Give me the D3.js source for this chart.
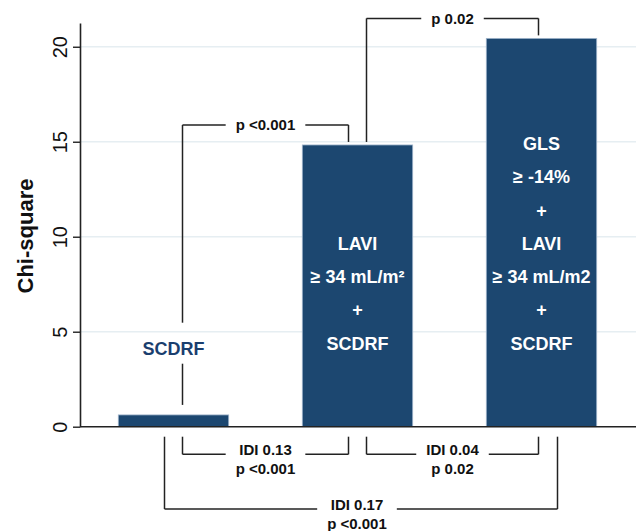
<!DOCTYPE html>
<html lang="en">
<meta charset="utf-8">

<script src="https://d3js.org/d3.v7.min.js"></script>

<head>
    <style type="text/css">
        body {
            margin: 0;
            background: #fff;
        }

        text {
            font-family: "Liberation Sans", Arial, sans-serif;
        }

        .bar-label {
            font-size: 18px;
            font-weight: bold;
        }

        .cmp-label {
            font-size: 15px;
            font-weight: bold;
            fill: #111;
        }
    </style>
</head>

<body>
    <div id="my_dataviz"></div>

    <script>
        // data
        const models = ["SCDRF", "LAVI + SCDRF", "GLS + LAVI + SCDRF"];
        const chiSquare = [0.62, 14.83, 20.44];
        const barLines = [
            ["SCDRF"],
            ["LAVI", "≥ 34 mL/m²", "+", "SCDRF"],
            ["GLS", "≥ -14%", "+", "LAVI", "≥ 34 mL/m2", "+", "SCDRF"]
        ];
        const yTicks = [0, 5, 10, 15, 20];

        // chi-square comparisons (above bars)
        const topPairs = [[0, 1], [1, 2]];
        const topLabels = ["p <0.001", "p 0.02"];

        // IDI comparisons (below axis)
        const bottomPairs = [[0, 1], [1, 2], [0, 2]];
        const bottomLabels = [["IDI 0.13", "p <0.001"], ["IDI 0.04", "p 0.02"], ["IDI 0.17", "p <0.001"]];

        const W = 638, H = 531;
        const axisX = 80, plotRight = 636;

        const svg = d3.select("#my_dataviz")
            .append("svg")
            .attr("width", W)
            .attr("height", H);

        const x = d3.scaleBand()
            .domain(models)
            .range([81.5, 633.5])
            .paddingInner(0.4)
            .paddingOuter(0.2);

        const y = d3.scaleLinear()
            .domain([0, 21.25])
            .range([426.7, 23]);

        const cx = i => x(models[i]) + x.bandwidth() / 2;

        // gridlines
        svg.append("g")
            .selectAll("line")
            .data(yTicks.filter(d => d > 0))
            .join("line")
            .attr("x1", axisX)
            .attr("x2", plotRight)
            .attr("y1", d => y(d))
            .attr("y2", d => y(d))
            .attr("stroke", "#e6eef2")
            .attr("stroke-width", 1.5);

        // bars
        svg.append("g")
            .selectAll("rect")
            .data(chiSquare)
            .join("rect")
            .attr("x", (d, i) => x(models[i]))
            .attr("y", d => y(d))
            .attr("width", x.bandwidth())
            .attr("height", d => y(0) - y(d))
            .attr("fill", "#1c4770")
            .attr("stroke", "#9fb4cb")
            .attr("stroke-width", 0.8);

        // y axis
        const yAxis = svg.append("g")
            .attr("transform", `translate(${axisX},0)`)
            .call(d3.axisLeft(y).tickValues(yTicks).tickSize(7).tickSizeOuter(0))
            .attr("font-size", 20)
            .attr("font-family", null);
        yAxis.select(".domain").attr("stroke", "#222").attr("stroke-width", 1.6);
        yAxis.selectAll(".tick line").attr("stroke", "#222").attr("stroke-width", 1.4);
        yAxis.selectAll(".tick text")
            .attr("transform", "rotate(-90)")
            .attr("x", 0)
            .attr("y", -13)
            .attr("dy", null)
            .attr("fill", "#111")
            .style("text-anchor", "middle");

        // x axis line
        svg.append("line")
            .attr("x1", axisX)
            .attr("x2", plotRight)
            .attr("y1", y(0))
            .attr("y2", y(0))
            .attr("stroke", "#222")
            .attr("stroke-width", 1.6);

        svg.append("text")
            .attr("transform", "translate(33,236)rotate(-90)")
            .attr("text-anchor", "middle")
            .attr("font-size", 22)
            .attr("font-weight", "bold")
            .attr("fill", "#111")
            .text("Chi-square");

        // labels on / above bars
        let firstLabel = null;
        barLines.forEach((lines, i) => {
            lines.forEach((t, j) => {
                const inside = i > 0;
                const base = inside ? y(0) - 77 - (lines.length - 1 - j) * 33.3 : y(0) - 72;
                svg.append("text")
                    .attr("class", "bar-label")
                    .attr("x", cx(i))
                    .attr("y", base)
                    .attr("text-anchor", "middle")
                    .attr("fill", inside ? "#fff" : "#1a3e6e")
                    .text(t);
                if (!inside) firstLabel = base;
            });
        });

        // brackets
        const br = svg.append("g").attr("stroke", "#222").attr("stroke-width", 1.5).attr("fill", "none");
        const seg = (x1, y1, x2, y2) => br.append("line")
            .attr("x1", x1).attr("y1", y1).attr("x2", x2).attr("y2", y2);
        const rightLeg = [0, -9, -3];
        const legEnd = v => y(v) - (v < 2 ? 10 : 3);

        function hLine(x1, x2, yl, xm, gap) {
            seg(x1, yl, xm - gap, yl);
            seg(xm + gap, yl, x2, yl);
        }

        topPairs.forEach(([a, b], k) => {
            const x1 = cx(a) + 9, x2 = cx(b) + rightLeg[b];
            const yl = y(Math.max(chiSquare[a], chiSquare[b])) - 20;
            const xm = (x1 + x2) / 2;
            const t = svg.append("text")
                .attr("class", "cmp-label")
                .attr("x", xm)
                .attr("y", yl + 5.4)
                .attr("text-anchor", "middle")
                .text(topLabels[k]);
            const gap = t.node().getComputedTextLength() / 2 + 10;
            hLine(x1, x2, yl, xm, gap);
            // left leg, broken around the SCDRF label over the small bar
            if (a === 0) {
                seg(x1, yl, x1, firstLabel - 32);
                seg(x1, firstLabel + 9, x1, legEnd(chiSquare[a]));
            } else {
                seg(x1, yl, x1, legEnd(chiSquare[a]));
            }
            seg(x2, yl, x2, legEnd(chiSquare[b]));
        });

        bottomPairs.forEach(([a, b], k) => {
            const wide = (b - a) > 1;
            const x1 = wide ? cx(a) - 9 : cx(a) + 9;
            const x2 = wide ? cx(b) + 16 : cx(b) + rightLeg[b];
            const yTop = y(0) + 10;
            const yl = y(0) + (wide ? 82.3 : 27.6);
            const xm = (x1 + x2) / 2 - (wide ? 4 : 0);
            let wMax = 0;
            bottomLabels[k].forEach((s, j) => {
                const t = svg.append("text")
                    .attr("class", "cmp-label")
                    .attr("x", xm)
                    .attr("y", yl + 1 + j * 19)
                    .attr("text-anchor", "middle")
                    .text(s);
                wMax = Math.max(wMax, t.node().getComputedTextLength());
            });
            hLine(x1, x2, yl, xm, wMax / 2 + 10);
            seg(x1, yTop, x1, yl);
            seg(x2, yTop, x2, yl);
        });
    </script>
</body>

</html>
